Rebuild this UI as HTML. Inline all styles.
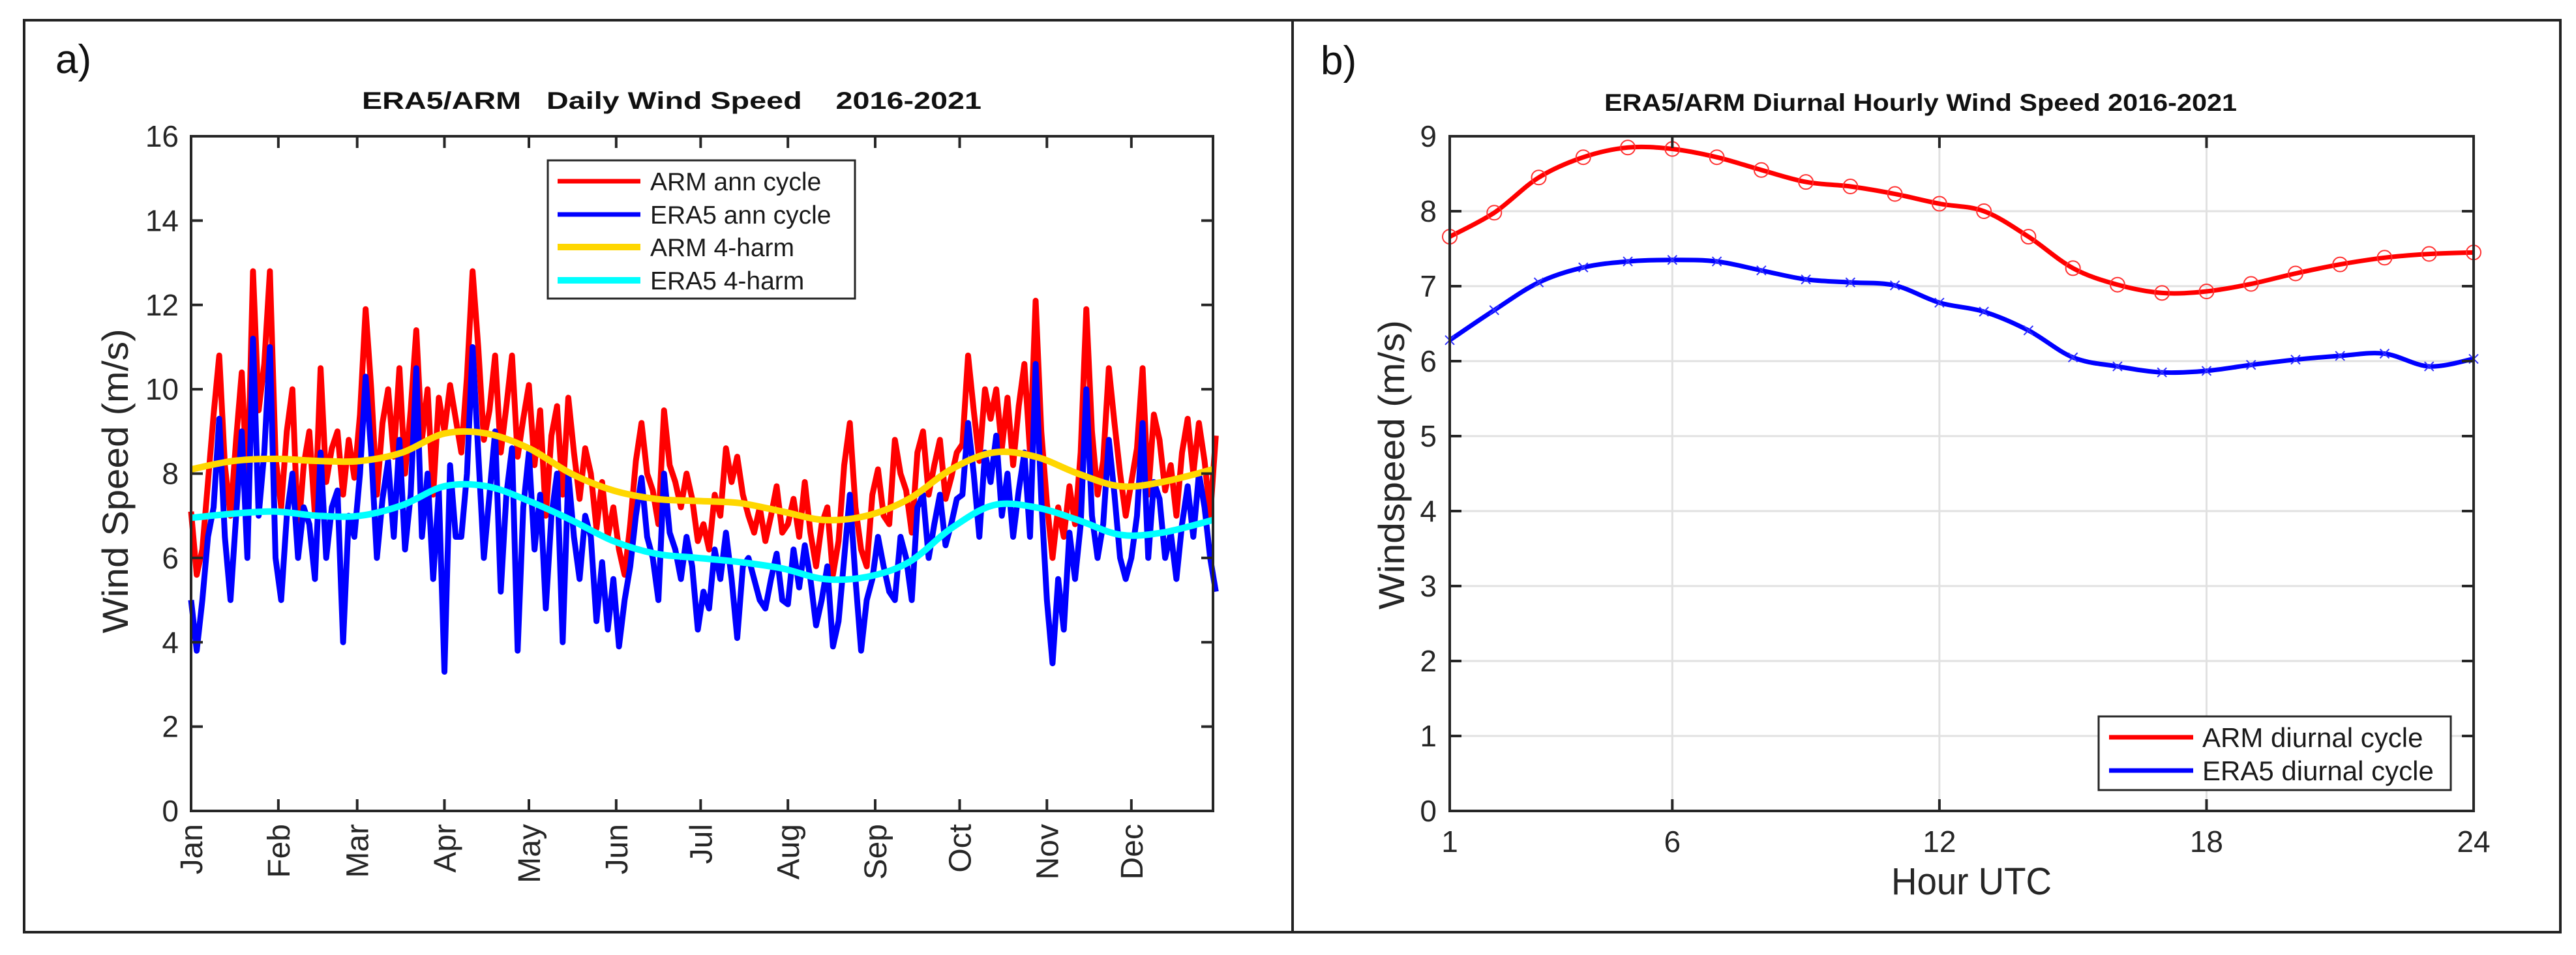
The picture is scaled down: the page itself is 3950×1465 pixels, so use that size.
<!DOCTYPE html>
<html><head><meta charset="utf-8"><style>
html,body{margin:0;padding:0;background:#fff;}
svg{display:block;font-family:"Liberation Sans",sans-serif;}
</style></head><body>
<svg id="fig" width="3950" height="1465" viewBox="0 0 3950 1465" xmlns="http://www.w3.org/2000/svg">
<rect x="37" y="31" width="3889" height="1399" fill="none" stroke="#222" stroke-width="4"/>
<line x1="1982" y1="31" x2="1982" y2="1430" stroke="#222" stroke-width="4"/>
<text x="85" y="112" font-size="62" fill="#111">a)</text>
<text x="2025" y="114" font-size="62" fill="#111">b)</text>
<text x="555" y="167" font-size="37" font-weight="bold" fill="#111" textLength="950" lengthAdjust="spacingAndGlyphs" style="white-space:pre">ERA5/ARM   Daily Wind Speed    2016-2021</text>
<text x="2460" y="170" font-size="37" font-weight="bold" fill="#111" textLength="970" lengthAdjust="spacingAndGlyphs">ERA5/ARM Diurnal Hourly Wind Speed 2016-2021</text>
<g id="ga"></g>
<g id="gb"></g>
</svg>
<script>
// ---------- Panel a data ----------
const monthLabels = ["Jan","Feb","Mar","Apr","May","Jun","Jul","Aug","Sep","Oct","Nov","Dec"];
const monthStartDays = [0,31,59,90,120,151,181,212,243,273,304,334];
const yTicksA = [0,2,4,6,8,10,12,14,16];
const dayStep = 2;
const armDaily = [7.1,5.6,6.2,7.8,9.4,10.8,8.2,7.0,8.8,10.4,7.6,12.8,9.5,10.6,12.8,8.4,
7.2,9.0,10.0,6.5,8.2,9.0,7.0,10.5,7.8,8.6,9.0,7.5,8.8,7.9,
9.4,11.9,10.0,7.5,9.2,10.0,8.4,10.5,8.0,9.5,11.4,8.8,10.0,7.5,9.8,
9.0,10.1,9.3,8.5,10.3,12.8,11.0,8.8,9.5,10.8,8.5,9.6,10.8,8.4,9.3,
10.1,8.2,9.5,7.0,8.9,9.6,7.5,9.8,8.5,7.4,8.6,8.0,6.7,7.8,6.5,7.2,
6.2,5.6,6.8,8.3,9.2,8.0,7.6,6.8,9.5,8.2,7.8,7.2,8.0,7.4,6.4,
6.8,6.2,7.5,7.0,8.6,7.8,8.4,7.5,7.0,6.6,7.2,6.4,7.0,7.7,6.6,6.8,
7.4,6.5,7.8,6.6,5.8,6.8,7.2,5.6,6.4,8.2,9.2,7.2,6.2,5.8,7.5,
8.1,7.0,6.8,8.8,8.0,7.6,6.6,8.5,9.0,7.5,8.2,8.8,7.4,7.9,8.5,
8.7,10.8,9.5,8.3,10.0,9.3,10.0,8.6,9.8,8.2,9.6,10.6,8.5,12.1,9.0,7.3,
6.0,7.2,6.5,7.7,6.8,8.5,11.9,9.0,7.5,8.3,10.5,9.2,8.0,7.0,7.8,
8.6,10.5,7.5,9.4,8.8,7.6,8.2,7.0,8.5,9.3,8.0,9.2,8.3,7.0,8.9];
const era5Daily = [5.0,3.8,5.0,6.5,7.2,9.3,6.5,5.0,7.0,9.0,6.0,11.2,7.0,8.5,11.0,6.0,
5.0,7.0,8.0,6.0,7.2,6.8,5.5,8.5,6.0,7.2,7.6,4.0,7.0,6.5,
8.0,10.3,8.5,6.0,7.4,8.3,6.5,8.8,6.2,7.5,10.5,6.5,8.0,5.5,7.6,
3.3,8.2,6.5,6.5,8.0,11.0,8.5,6.0,7.5,9.0,5.2,7.5,8.6,3.8,7.2,
8.5,6.2,7.5,4.8,7.0,8.0,4.0,8.0,6.5,5.5,7.0,6.5,4.5,5.9,4.3,5.5,
3.9,5.0,5.8,7.0,7.9,6.5,6.0,5.0,8.0,6.6,6.2,5.5,6.5,5.8,4.3,
5.2,4.8,6.2,5.5,6.6,5.5,4.1,5.8,6.0,5.5,5.0,4.8,5.5,6.1,5.0,4.9,
6.2,5.3,6.3,5.5,4.4,5.0,5.8,3.9,4.5,6.0,7.5,5.5,3.8,5.0,5.5,
6.5,5.8,5.2,5.0,6.5,6.0,5.0,7.2,7.5,6.0,6.8,7.5,6.3,6.8,7.4,
7.5,9.2,8.0,6.5,8.5,7.8,8.9,7.0,8.0,6.5,7.6,8.5,6.5,10.6,7.4,5.0,
3.5,5.5,4.3,6.6,5.5,6.8,10.0,7.0,6.0,6.8,8.8,7.5,6.0,5.5,6.0,
7.0,9.2,6.0,7.8,7.4,6.0,6.6,5.5,6.8,7.7,6.5,8.0,7.2,6.0,5.2];
const harmDays = [0,15,30,45,60,75,90,105,120,135,150,165,180,195,210,225,240,255,270,285,300,315,330,345,363];
const armHarm  = [8.1,8.3,8.35,8.3,8.3,8.5,8.95,8.95,8.6,8.0,7.6,7.4,7.35,7.3,7.1,6.9,7.0,7.4,8.1,8.5,8.4,8.0,7.7,7.8,8.1];
const era5Harm = [6.95,7.05,7.1,7.0,7.0,7.25,7.7,7.7,7.35,6.9,6.4,6.1,6.0,5.9,5.75,5.5,5.55,5.9,6.7,7.25,7.2,6.9,6.55,6.6,6.9];

// ---------- Panel b data ----------
const hours = [1,2,3,4,5,6,7,8,9,10,11,12,13,14,15,16,17,18,19,20,21,22,23,24];
const armHourly = [7.66,7.98,8.45,8.72,8.85,8.83,8.72,8.55,8.39,8.33,8.23,8.10,8.00,7.66,7.24,7.02,6.91,6.93,7.03,7.17,7.29,7.38,7.43,7.45];
const era5Hourly = [6.28,6.68,7.05,7.25,7.33,7.35,7.33,7.21,7.09,7.05,7.01,6.78,6.66,6.41,6.05,5.93,5.85,5.87,5.95,6.02,6.07,6.10,5.93,6.03];
const xTicksB = [1,6,12,18,24];
const yTicksB = [0,1,2,3,4,5,6,7,8,9];

const NS = "http://www.w3.org/2000/svg";
function mk(tag, attrs, parent){const e=document.createElementNS(NS,tag);for(const k in attrs)e.setAttribute(k,attrs[k]);parent.appendChild(e);return e;}
function smoothPath(pts){
  let d="M"+pts[0][0].toFixed(1)+","+pts[0][1].toFixed(1);
  for(let i=0;i<pts.length-1;i++){
    const p0=pts[Math.max(0,i-1)],p1=pts[i],p2=pts[i+1],p3=pts[Math.min(pts.length-1,i+2)];
    const c1=[p1[0]+(p2[0]-p0[0])/6,p1[1]+(p2[1]-p0[1])/6];
    const c2=[p2[0]-(p3[0]-p1[0])/6,p2[1]-(p3[1]-p1[1])/6];
    d+=" C"+c1[0].toFixed(1)+","+c1[1].toFixed(1)+" "+c2[0].toFixed(1)+","+c2[1].toFixed(1)+" "+p2[0].toFixed(1)+","+p2[1].toFixed(1);
  }
  return d;
}
const AX="#262626";

// ===== Panel A =====
(function(){
  const g=document.getElementById('ga');
  const L=293,R=1860,T=209,B=1244;
  const xA=d=>L+(d/363)*(R-L);
  const yA=v=>B-(v/16)*(B-T);
  const redPts=armDaily.map((v,i)=>[xA(i*dayStep),yA(v)]);
  const bluePts=era5Daily.map((v,i)=>[xA(i*dayStep),yA(v)]);
  let p=mk('polyline',{points:redPts.map(q=>q.join(',')).join(' '),fill:'none',stroke:'#ff0000','stroke-width':9,'stroke-linejoin':'round'},g);
  
  
  p=mk('polyline',{points:bluePts.map(q=>q.join(',')).join(' '),fill:'none',stroke:'#0000ff','stroke-width':9,'stroke-linejoin':'round'},g);
  
  
  p=mk('path',{d:smoothPath(harmDays.map((d,i)=>[xA(d),yA(armHarm[i])])),fill:'none',stroke:'#ffd700','stroke-width':10},g);
  
  
  p=mk('path',{d:smoothPath(harmDays.map((d,i)=>[xA(d),yA(era5Harm[i])])),fill:'none',stroke:'#00ffff','stroke-width':10},g);
  
  
  const box=mk('rect',{x:L,y:T,width:R-L,height:B-T,fill:'none',stroke:AX,'stroke-width':4},g);
  
  
  yTicksA.forEach(v=>{
    const y=yA(v);
    mk('line',{x1:L,y1:y,x2:L+18,y2:y,stroke:AX,'stroke-width':4},g);
    mk('line',{x1:R,y1:y,x2:R-18,y2:y,stroke:AX,'stroke-width':4},g);
    const t=mk('text',{x:274,y:y+16,'font-size':46,'text-anchor':'end',fill:'#262626'},g);
    t.textContent=v;
    
    
  });
  monthLabels.forEach((m,i)=>{
    const x=xA(monthStartDays[i]);
    mk('line',{x1:x,y1:B,x2:x,y2:B-18,stroke:AX,'stroke-width':4},g);
    mk('line',{x1:x,y1:T,x2:x,y2:T+18,stroke:AX,'stroke-width':4},g);
    const t=mk('text',{x:0,y:0,'font-size':48,'text-anchor':'end',fill:'#262626',transform:`translate(${x+17},1264) rotate(-90)`},g);
    t.textContent=m;
    
    
  });
  const yl=mk('text',{x:0,y:0,'font-size':56,'text-anchor':'middle',fill:'#262626',transform:'translate(196,738) rotate(-90)',textLength:467,lengthAdjust:'spacingAndGlyphs'},g);
  yl.textContent='Wind Speed (m/s)';
  
  
  const lg=mk('g',{},g);
  
  
  mk('rect',{x:840,y:246,width:471,height:212,fill:'#fff',stroke:AX,'stroke-width':3},lg);
  const entries=[['ARM ann cycle','#ff0000',7],['ERA5 ann cycle','#0000ff',7],['ARM 4-harm','#ffd700',10],['ERA5 4-harm','#00ffff',10]];
  const ys=[278,329,379,430];
  entries.forEach((e,i)=>{
    const eg=mk('g',{},lg);
    
    
    mk('line',{x1:855,y1:ys[i],x2:982,y2:ys[i],stroke:e[1],'stroke-width':e[2]},eg);
    const t=mk('text',{x:997,y:ys[i]+14,'font-size':39,fill:'#1a1a1a'},eg);
    t.textContent=e[0];
  });
})();

// ===== Panel B =====
(function(){
  const g=document.getElementById('gb');
  const L=2223,R=3793,T=209,B=1244;
  const xB=h=>L+((h-1)/23)*(R-L);
  const yB=v=>B-(v/9)*(B-T);
  yTicksB.forEach(v=>{ if(v>0&&v<9){const l=mk('line',{x1:L,y1:yB(v),x2:R,y2:yB(v),stroke:'#e1e1e1','stroke-width':3},g);
    
    }});
  xTicksB.forEach(h=>{ if(h>1&&h<24){const l=mk('line',{x1:xB(h),y1:T,x2:xB(h),y2:B,stroke:'#e1e1e1','stroke-width':3},g);
    
    }});
  let p=mk('path',{d:smoothPath(hours.map((h,i)=>[xB(h),yB(armHourly[i])])),fill:'none',stroke:'#ff0000','stroke-width':7},g);
  
  
  p=mk('path',{d:smoothPath(hours.map((h,i)=>[xB(h),yB(era5Hourly[i])])),fill:'none',stroke:'#0000ff','stroke-width':7},g);
  
  
  hours.forEach((h,i)=>{
    const c=mk('circle',{cx:xB(h),cy:yB(armHourly[i]),r:11,fill:'none',stroke:'#ff3030','stroke-width':2},g);
    
    
    const x=xB(h),y=yB(era5Hourly[i]),s=7;
    const m=mk('path',{d:`M${x-s},${y-s}L${x+s},${y+s}M${x-s},${y+s}L${x+s},${y-s}`,stroke:'#3030ff','stroke-width':2},g);
    
    
  });
  const box=mk('rect',{x:L,y:T,width:R-L,height:B-T,fill:'none',stroke:AX,'stroke-width':4},g);
  
  
  yTicksB.forEach(v=>{
    const y=yB(v);
    mk('line',{x1:L,y1:y,x2:L+18,y2:y,stroke:AX,'stroke-width':4},g);
    mk('line',{x1:R,y1:y,x2:R-18,y2:y,stroke:AX,'stroke-width':4},g);
    const t=mk('text',{x:2203,y:y+16,'font-size':46,'text-anchor':'end',fill:'#262626'},g);
    t.textContent=v;
    
    
  });
  xTicksB.forEach(h=>{
    const x=xB(h);
    mk('line',{x1:x,y1:B,x2:x,y2:B-18,stroke:AX,'stroke-width':4},g);
    mk('line',{x1:x,y1:T,x2:x,y2:T+18,stroke:AX,'stroke-width':4},g);
    const t=mk('text',{x:x,y:1307,'font-size':46,'text-anchor':'middle',fill:'#262626'},g);
    t.textContent=h;
    
    
  });
  const xl=mk('text',{x:3023,y:1372,'font-size':58,'text-anchor':'middle',fill:'#262626',textLength:246,lengthAdjust:'spacingAndGlyphs'},g);
  xl.textContent='Hour UTC';
  
  
  const yl=mk('text',{x:0,y:0,'font-size':56,'text-anchor':'middle',fill:'#262626',transform:'translate(2153,713) rotate(-90)',textLength:444,lengthAdjust:'spacingAndGlyphs'},g);
  yl.textContent='Windspeed (m/s)';
  
  
  const lg=mk('g',{},g);
  
  
  mk('rect',{x:3218,y:1099,width:540,height:113,fill:'#fff',stroke:AX,'stroke-width':3},lg);
  [['ARM diurnal cycle','#ff0000',1131],['ERA5 diurnal cycle','#0000ff',1182]].forEach(e=>{
    const eg=mk('g',{},lg);
    
    
    mk('line',{x1:3234,y1:e[2],x2:3363,y2:e[2],stroke:e[1],'stroke-width':7},eg);
    const t=mk('text',{x:3377,y:e[2]+15,'font-size':42,fill:'#1a1a1a'},eg);
    t.textContent=e[0];
  });
})();
</script>
</body></html>
